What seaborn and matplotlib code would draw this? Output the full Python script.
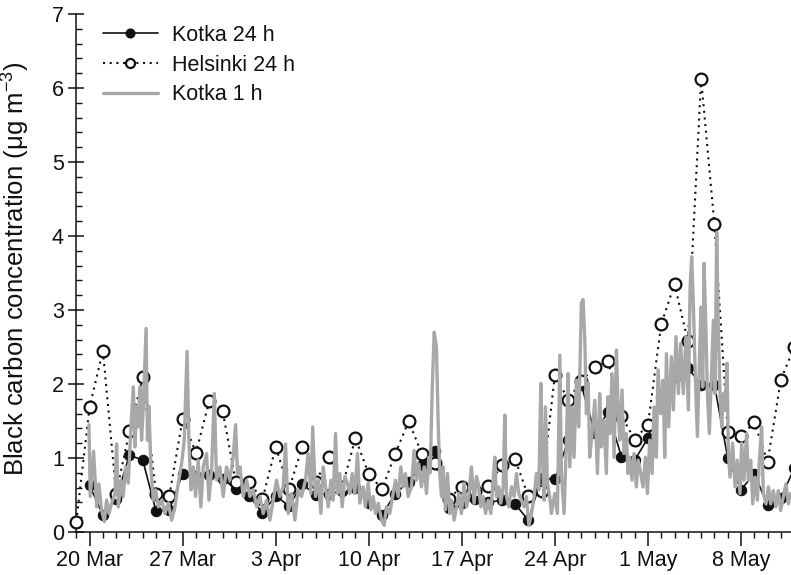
import matplotlib
matplotlib.use("Agg")
import matplotlib.pyplot as plt
import matplotlib.dates as mdates
from matplotlib.ticker import MultipleLocator
import pandas as pd
import seaborn as sns

# ---- data -------------------------------------------------------------
start = pd.Timestamp("2010-03-20")

# daily means, one value per day counted from 20 Mar
helsinki_day = list(range(-1, 54))
helsinki_24h = [0.14, 1.69, 2.45, 0.52, 1.36, 2.09, 0.51, 0.49, 1.53, 1.07,
                1.77, 1.64, 0.68, 0.67, 0.44, 1.15, 0.58, 1.15, 0.68, 1.02,
                0.61, 1.27, 0.78, 0.58, 1.06, 1.50, 1.05, 0.93, 0.45, 0.61,
                0.55, 0.62, 0.91, 0.99, 0.48, 0.55, 2.12, 1.79, 2.04, 2.23,
                2.31, 1.57, 1.25, 1.45, 2.81, 3.35, 2.58, 6.12, 4.16, 1.35,
                1.30, 1.48, 0.95, 2.06, 2.50]

kotka_day = list(range(0, 54))
kotka_24h = [0.63, 0.23, 0.45, 1.04, 0.97, 0.28, 0.30, 0.79, 0.76, 0.77,
             0.72, 0.58, 0.49, 0.26, 0.49, 0.35, 0.65, 0.50, 0.52, 0.55,
             0.59, 0.39, 0.23, 0.52, 0.68, 0.90, 1.09, 0.32, 0.39, 0.45,
             0.40, 0.43, 0.38, 0.16, 0.73, 0.71, 1.24, 1.98, 1.34, 1.62,
             1.02, 0.97, 1.27, 1.82, 2.10, 2.22, 1.99, 1.99, 1.00, 0.57,
             0.79, 0.36, 0.46, 0.86]

# hourly Kotka record: (days since 20 Mar, concentration)
kotka_1h_week1 = [(-0.05, 1.45), (0.05, 0.48), (0.30, 1.09), (0.53, 0.34), (0.70, 0.65), (0.90, 0.30),
                  (1.11, 0.14), (1.28, 0.43), (1.46, 0.25), (1.66, 0.39), (1.91, 0.52), (2.03, 1.19),
                  (2.16, 0.34), (2.36, 0.70), (2.53, 0.48), (2.71, 0.88), (2.91, 0.66), (3.11, 1.42),
                  (3.29, 1.96), (3.41, 1.15), (3.54, 1.70), (3.66, 1.42), (3.79, 1.96), (3.91, 1.24),
                  (4.04, 1.70), (4.25, 2.75), (4.35, 1.24), (4.46, 1.70), (4.61, 0.88), (4.79, 0.43),
                  (4.96, 0.57), (5.17, 0.34), (5.42, 0.43), (5.67, 0.25), (5.92, 0.39), (6.17, 0.16),
                  (6.42, 0.34), (6.67, 0.66), (6.92, 0.92)]
kotka_1h_week2 = [(7.12, 1.24), (7.33, 2.44), (7.47, 1.24), (7.62, 0.57), (7.80, 0.88), (7.97, 0.48),
                  (8.17, 0.97), (8.37, 0.34), (8.55, 0.88), (8.80, 1.06), (8.98, 0.43), (9.18, 0.84),
                  (9.38, 1.87), (9.55, 0.70), (9.80, 0.88), (10.05, 0.48), (10.30, 0.88), (10.55, 0.70),
                  (10.80, 1.01), (10.98, 1.45), (11.13, 0.79), (11.31, 0.88), (11.56, 0.48), (11.81, 0.70),
                  (12.06, 0.48), (12.31, 0.57), (12.56, 0.34), (12.81, 0.48), (13.06, 0.25), (13.31, 0.43),
                  (13.56, 0.16), (13.81, 0.43)]
kotka_1h_week3 = [(14.06, 0.70), (14.31, 0.48), (14.56, 0.61), (14.74, 1.19), (14.94, 0.25), (15.19, 0.52),
                  (15.44, 0.16), (15.69, 0.57), (15.94, 0.48), (16.24, 0.70), (16.44, 1.06), (16.64, 0.52),
                  (16.78, 1.42), (16.99, 0.48), (17.20, 0.70), (17.40, 0.25), (17.57, 0.88), (17.75, 0.61),
                  (17.95, 0.34), (18.15, 0.70), (18.32, 0.43), (18.50, 1.33), (18.65, 0.52), (18.82, 0.79),
                  (19.00, 0.34), (19.20, 0.75), (19.40, 0.66), (19.58, 0.52), (19.75, 0.79), (19.95, 0.52),
                  (20.15, 1.06), (20.33, 0.39), (20.58, 0.61), (20.75, 0.34)]
kotka_1h_week4 = [(20.95, 0.66), (21.16, 0.30), (21.33, 0.48), (21.51, 0.25), (21.71, 0.39), (21.96, 0.16),
                  (22.16, 0.09), (22.33, 0.34), (22.58, 0.25), (22.83, 0.52), (23.01, 0.70), (23.21, 0.48),
                  (23.41, 0.88), (23.59, 0.61), (23.76, 0.79), (23.96, 0.48), (24.21, 0.61), (24.41, 1.10),
                  (24.59, 0.70), (24.76, 0.92), (24.96, 0.61), (25.17, 0.88), (25.34, 0.52), (25.52, 1.01),
                  (25.62, 0.80), (25.77, 1.92), (25.92, 2.70), (26.09, 2.50), (26.22, 1.47), (26.34, 0.79),
                  (26.47, 0.48), (26.59, 0.88), (26.77, 0.30), (26.92, 0.79), (27.10, 0.25), (27.22, 0.43),
                  (27.42, 0.16), (27.60, 0.34), (27.77, 0.52), (27.97, 0.25)]
kotka_1h_week5 = [(28.17, 0.66), (28.35, 0.34), (28.52, 0.48), (28.72, 0.88), (28.92, 0.39), (29.10, 0.75),
                  (29.23, 0.66), (29.43, 0.34), (29.60, 0.48), (29.78, 0.25), (29.98, 0.43), (30.18, 0.25),
                  (30.35, 0.70), (30.48, 1.01), (30.60, 0.48), (30.78, 0.61), (30.93, 0.39), (31.11, 0.61),
                  (31.23, 1.58), (31.36, 0.48), (31.53, 0.34), (31.73, 0.61), (31.93, 0.48), (32.11, 0.79),
                  (32.28, 0.52), (32.48, 0.43), (32.68, 0.34), (32.86, 0.48), (33.04, 0.09), (33.24, 0.25),
                  (33.44, 0.48), (33.61, 0.79), (33.79, 0.57), (33.94, 2.01), (34.06, 1.01), (34.19, 0.43),
                  (34.29, 1.69), (34.44, 0.66), (34.61, 0.48), (34.74, 0.25), (34.99, 0.52)]
kotka_1h_week6 = [(35.19, 0.25), (35.37, 2.39), (35.49, 0.79), (35.69, 0.25), (35.87, 1.24), (35.99, 2.14),
                  (36.12, 0.88), (36.29, 1.69), (36.44, 1.01), (36.62, 2.05), (36.79, 1.42), (36.99, 3.09),
                  (37.12, 3.14), (37.25, 2.60), (37.37, 1.60), (37.50, 2.01), (37.62, 1.01), (37.80, 1.33),
                  (38.00, 1.78), (38.20, 0.79), (38.37, 1.87), (38.50, 1.15), (38.70, 1.51), (38.87, 0.79),
                  (39.00, 1.83), (39.13, 1.33), (39.30, 2.14), (39.45, 1.01), (39.63, 2.46), (39.75, 1.69),
                  (39.88, 1.24), (40.05, 1.92), (40.20, 1.06), (40.38, 1.33), (40.50, 0.79), (40.63, 1.01),
                  (40.80, 0.70), (40.95, 1.06), (41.13, 0.61), (41.26, 0.97), (41.46, 0.79), (41.63, 0.61),
                  (41.81, 1.01), (41.96, 0.52)]
kotka_1h_week7 = [(42.13, 1.24), (42.31, 0.79), (42.46, 1.69), (42.63, 1.01), (42.76, 2.19), (42.96, 1.60),
                  (43.14, 2.05), (43.26, 1.01), (43.39, 2.41), (43.56, 1.42), (43.76, 2.37), (43.91, 1.65),
                  (44.11, 2.64), (44.29, 1.87), (44.46, 2.55), (44.66, 1.87), (44.86, 2.64), (45.04, 1.65),
                  (45.17, 3.31), (45.29, 3.72), (45.42, 3.04), (45.57, 2.05), (45.72, 1.29), (45.87, 2.32),
                  (45.99, 3.04), (46.12, 1.96), (46.22, 3.63), (46.37, 2.68), (46.47, 1.87), (46.62, 1.33),
                  (46.79, 2.19), (46.92, 2.86), (47.04, 1.87), (47.17, 4.05), (47.29, 2.77), (47.42, 1.87),
                  (47.55, 1.42), (47.67, 1.87), (47.80, 1.65), (47.95, 2.28), (48.05, 1.06), (48.17, 0.74),
                  (48.37, 1.20), (48.55, 0.61), (48.72, 0.97), (48.92, 0.52)]
kotka_1h_week8 = [(49.05, 1.20), (49.22, 0.70), (49.42, 1.33), (49.55, 0.70), (49.73, 0.97), (49.88, 0.38),
                  (50.05, 0.74), (50.23, 0.43), (50.38, 0.97), (50.55, 1.42), (50.68, 0.52), (50.88, 0.38),
                  (51.06, 0.61), (51.23, 0.38), (51.43, 0.56), (51.62, 0.34), (51.81, 0.56), (51.98, 0.29),
                  (52.18, 0.47), (52.38, 0.65), (52.56, 0.38), (52.73, 0.52), (52.90, 0.45)]

tick_dates = ["2010-03-20", "2010-03-27", "2010-04-03", "2010-04-10",
              "2010-04-17", "2010-04-24", "2010-05-01", "2010-05-08"]
tick_labels = ["20 Mar", "27 Mar", "3 Apr", "10 Apr", "17 Apr", "24 Apr", "1 May", "8 May"]

labels = ["Kotka 24 h", "Helsinki 24 h", "Kotka 1 h"]

# ---- tables -----------------------------------------------------------
def to_time(days):
    return start + pd.to_timedelta(days, unit="D")

kotka_daily = pd.DataFrame({"time": to_time(pd.Series(kotka_day, dtype=float)),
                            "bc": kotka_24h})
helsinki_daily = pd.DataFrame({"time": to_time(pd.Series(helsinki_day, dtype=float)),
                               "bc": helsinki_24h})
hourly = (kotka_1h_week1 + kotka_1h_week2 + kotka_1h_week3 + kotka_1h_week4 +
          kotka_1h_week5 + kotka_1h_week6 + kotka_1h_week7 + kotka_1h_week8)
kotka_hourly = pd.DataFrame(hourly, columns=["day", "bc"])
kotka_hourly["time"] = to_time(kotka_hourly["day"])

# ---- style ------------------------------------------------------------
sns.set_style("ticks")
plt.rcParams["font.family"] = ["Liberation Sans", "DejaVu Sans"]
plt.rcParams["mathtext.fontset"] = "custom"
plt.rcParams["mathtext.rm"] = "Liberation Sans"
plt.rcParams["mathtext.it"] = "Liberation Sans:italic"
plt.rcParams["axes.unicode_minus"] = True

W, H = 791, 575
fig = plt.figure(figsize=(W / 100, H / 100), dpi=100)
x0, y0, y7 = 76.3, 532.0, 14.0
ax = fig.add_axes([x0 / W, 1 - y0 / H, 1 - x0 / W, (y0 - y7) / H])

sns.lineplot(data=kotka_daily, x="time", y="bc", ax=ax, color="#111111",
             linewidth=1.2, marker="o", markersize=7.5, markerfacecolor="#111111",
             markeredgecolor="#111111", label=labels[0], clip_on=False, zorder=2)
sns.lineplot(data=helsinki_daily, x="time", y="bc", ax=ax, color="#111111",
             linewidth=1.5, linestyle=(0, (1, 2.2)), marker="o", markersize=8.5,
             markerfacecolor="white", markeredgecolor="#111111", markeredgewidth=1.6,
             label=labels[1], clip_on=False, zorder=3)
sns.lineplot(data=kotka_hourly, x="time", y="bc", ax=ax, color="#a8a8a8",
             linewidth=2.4, label=labels[2], zorder=4)

# ---- axes -------------------------------------------------------------
ax.set_ylim(0, 7)
ax.set_xlim(start - pd.Timedelta(days=1), start + pd.Timedelta(days=52.76))
ax.yaxis.set_major_locator(MultipleLocator(1))
ax.yaxis.set_minor_locator(MultipleLocator(0.2))
ax.set_xticks(pd.to_datetime(tick_dates))
ax.set_xticklabels(tick_labels)
ax.xaxis.set_minor_locator(mdates.DayLocator())

ax.tick_params(axis="y", which="major", direction="inout", length=12, width=1.1,
               labelsize=15.5, pad=3, colors="#111111")
ax.tick_params(axis="y", which="minor", direction="in", length=4, width=1.0, colors="#111111")
ax.tick_params(axis="x", which="major", direction="out", length=10, width=1.1,
               labelsize=15.5, pad=3, colors="#111111")
ax.tick_params(axis="x", which="minor", direction="out", length=4.5, width=1.0, colors="#111111")

for side in ["top", "right"]:
    ax.spines[side].set_visible(False)
for side in ["left", "bottom"]:
    ax.spines[side].set_linewidth(1.1)
    ax.spines[side].set_color("#111111")

ax.set_xlabel("")
ax.set_ylabel("Black carbon concentration (μg m$^{-3}$)", fontsize=18.5,
              color="#111111")
ax.yaxis.set_label_coords(32 / W, 1 - 269 / H, transform=fig.transFigure)

leg = ax.legend(loc="upper left", bbox_to_anchor=(103 / W, 1 - 25 / H),
                bbox_transform=fig.transFigure, frameon=False, fontsize=15.5,
                handlelength=2.55, handletextpad=0.65, labelspacing=0.4,
                borderpad=0, borderaxespad=0)
for line in leg.get_lines()[:2]:
    line.set_markersize(6.5)
for text in leg.get_texts():
    text.set_color("#111111")

fig.savefig("out.png", dpi=100)
